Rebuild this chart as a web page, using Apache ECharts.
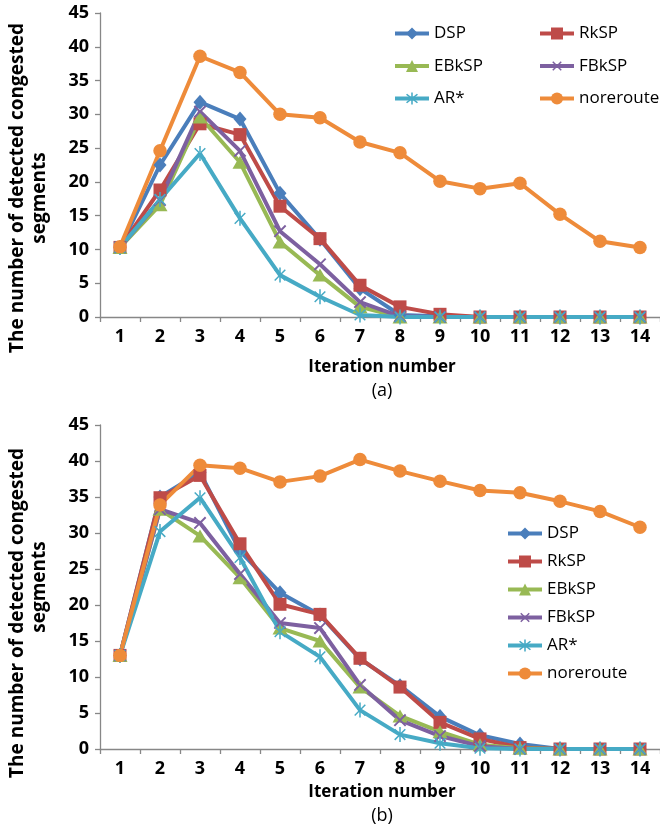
<!DOCTYPE html>
<html>
<head>
<meta charset="utf-8">
<script src="https://cdn.jsdelivr.net/npm/echarts@6/dist/echarts.min.js"></script>
<style>
html,body{margin:0;padding:0;background:#fff;}
#chart{width:660px;height:828px;}
</style>
</head>
<body>
<div id="chart"></div>
<script>
const categories = ['1','2','3','4','5','6','7','8','9','10','11','12','13','14'];
const seriesNames = ['DSP','RkSP','EBkSP','FBkSP','AR*','noreroute'];

// chart (a)
const dspA    = [10.3, 22.5, 31.8, 29.3, 18.3, 11.5, 4.2, 0.3, 0.1, 0, 0, 0, 0, 0];
const rkspA   = [10.3, 18.8, 28.6, 27.0, 16.4, 11.6, 4.7, 1.5, 0.4, 0, 0, 0, 0, 0];
const ebkspA  = [10.3, 16.6, 29.6, 22.9, 11.1, 6.2, 1.5, 0, 0, 0, 0, 0, 0, 0];
const fbkspA  = [10.3, 17.3, 30.4, 24.6, 12.7, 7.8, 2.2, 0.1, 0, 0, 0, 0, 0, 0];
const arA     = [10.3, 17.4, 24.2, 14.6, 6.2, 3.0, 0.3, 0, 0, 0, 0, 0, 0, 0];
const noreA   = [10.4, 24.6, 38.6, 36.2, 30.0, 29.5, 25.9, 24.3, 20.1, 19.0, 19.8, 15.2, 11.2, 10.3];

// chart (b)
const dspB    = [13.0, 35.0, 38.4, 27.5, 21.7, 18.6, 12.5, 8.8, 4.5, 1.9, 0.7, 0, 0, 0];
const rkspB   = [13.0, 34.9, 38.0, 28.5, 20.1, 18.7, 12.6, 8.6, 3.7, 1.4, 0.2, 0, 0, 0];
const ebkspB  = [13.0, 33.3, 29.6, 23.8, 16.8, 15.0, 8.6, 4.6, 2.4, 0.6, 0.1, 0, 0, 0];
const fbkspB  = [13.0, 33.3, 31.4, 24.3, 17.5, 16.8, 8.9, 4.0, 1.8, 0.4, 0, 0, 0, 0];
const arB     = [13.0, 30.2, 34.9, 26.6, 16.3, 12.8, 5.4, 2.0, 0.8, 0.1, 0, 0, 0, 0];
const noreB   = [13.0, 33.9, 39.4, 39.0, 37.1, 37.9, 40.2, 38.6, 37.2, 35.9, 35.6, 34.4, 33.0, 30.8];

const yTicks = [0, 5, 10, 15, 20, 25, 30, 35, 40, 45];

const colors = ['#4A7EBB', '#BE4B48', '#98B954', '#7D60A0', '#46AAC5', '#EE8B3A'];
const xPath = 'path://M8.8,0L11.2,0L11.2,8.8L20,8.8L20,11.2L11.2,11.2L11.2,20L8.8,20L8.8,11.2L0,11.2L0,8.8L8.8,8.8Z';
const starPath = 'path://M9,0L11,0L11,20L9,20Z M16.364,17.778L17.778,16.364L3.636,2.222L2.222,3.636Z M17.778,3.636L16.364,2.222L2.222,16.364L3.636,17.778Z';
const symbols = [
  {symbol:'diamond', size:[13,15], rotate:0},
  {symbol:'rect', size:13, rotate:0},
  {symbol:'triangle', size:[15,13], rotate:0},
  {symbol:xPath, size:16, rotate:45},
  {symbol:starPath, size:15, rotate:0},
  {symbol:'circle', size:13.5, rotate:0}
];

const FONT = 'Open Sans';
const axisColor = '#878787';

function mkSeries(gi, arrs) {
  return arrs.map((d, i) => ({
    name: seriesNames[i],
    type: 'line',
    xAxisIndex: gi, yAxisIndex: gi,
    data: d,
    symbol: symbols[i].symbol,
    symbolSize: symbols[i].size,
    symbolRotate: symbols[i].rotate,
    symbolKeepAspect: true,
    showAllSymbol: true,
    animation: false,
    color: colors[i],
    lineStyle: {width: 4, color: colors[i]},
    itemStyle: {color: colors[i], borderWidth: 0},
    emphasis: {disabled: true}
  }));
}

function xAx(gi) {
  return {
    type: 'category', gridIndex: gi, data: categories, boundaryGap: true,
    axisLine: {show: true, lineStyle: {color: axisColor, width: 1.3}},
    axisTick: {show: true, inside: false, length: 5, lineStyle: {color: axisColor, width: 1.3}},
    axisLabel: {color: '#000', fontFamily: FONT, fontWeight: 'bold', fontSize: 18, margin: 11},
    splitLine: {show: false}
  };
}
function yAx(gi) {
  return {
    type: 'value', gridIndex: gi, min: yTicks[0], max: yTicks[yTicks.length-1], interval: 5,
    axisLine: {show: true, lineStyle: {color: axisColor, width: 1.3}},
    axisTick: {show: true, inside: false, length: 5, lineStyle: {color: axisColor, width: 1.3}},
    axisLabel: {color: '#000', fontFamily: FONT, fontWeight: 'bold', fontSize: 18, margin: 11},
    splitLine: {show: false}
  };
}

const legendCommon = {
  orient: 'vertical', itemWidth: 34, itemHeight: 15,
  textStyle: {fontFamily: FONT, fontSize: 17, color: '#000'},
  lineStyle: {width: 4},
  selectedMode: false
};

const titleStyle = {fontFamily: FONT, fontWeight: 'bold', fontSize: 19, fill: '#000', align: 'center', verticalAlign: 'middle'};
const xTitleStyle = {fontFamily: FONT, fontWeight: 'bold', fontSize: 17, fill: '#000', align: 'center', verticalAlign: 'middle'};
const plainStyle = {fontFamily: FONT, fontSize: 18, fill: '#000', align: 'center', verticalAlign: 'middle'};

const option = {
  backgroundColor: '#fff',
  animation: false,
  grid: [
    {left: 100, top: 13, width: 563, height: 304},
    {left: 100, top: 425, width: 563, height: 324}
  ],
  xAxis: [xAx(0), xAx(1)],
  yAxis: [yAx(0), yAx(1)],
  legend: [
    Object.assign({}, legendCommon, {left: 388, top: 20, itemGap: 15.5, data: ['DSP','EBkSP','AR*']}),
    Object.assign({}, legendCommon, {left: 533, top: 20, itemGap: 15.5, data: ['RkSP','FBkSP','noreroute']}),
    Object.assign({}, legendCommon, {left: 501, top: 520, itemGap: 11, data: seriesNames.slice()})
  ],
  graphic: [
    {type: 'text', x: 18, y: 188, rotation: Math.PI/2, style: Object.assign({text: 'The number of detected congested'}, titleStyle)},
    {type: 'text', x: 40, y: 198, rotation: Math.PI/2, style: Object.assign({text: 'segments'}, titleStyle)},
    {type: 'text', x: 382, y: 367, style: Object.assign({text: 'Iteration number'}, xTitleStyle)},
    {type: 'text', x: 382, y: 391, style: Object.assign({text: '(a)'}, plainStyle)},
    {type: 'text', x: 18, y: 613, rotation: Math.PI/2, style: Object.assign({text: 'The number of detected congested'}, titleStyle)},
    {type: 'text', x: 40, y: 587, rotation: Math.PI/2, style: Object.assign({text: 'segments'}, titleStyle)},
    {type: 'text', x: 382, y: 792, style: Object.assign({text: 'Iteration number'}, xTitleStyle)},
    {type: 'text', x: 382, y: 816, style: Object.assign({text: '(b)'}, plainStyle)}
  ],
  series: mkSeries(0, [dspA, rkspA, ebkspA, fbkspA, arA, noreA])
    .concat(mkSeries(1, [dspB, rkspB, ebkspB, fbkspB, arB, noreB]))
};

const chart = echarts.init(document.getElementById('chart'), null, {renderer: 'canvas'});
chart.setOption(option);
</script>
</body>
</html>
